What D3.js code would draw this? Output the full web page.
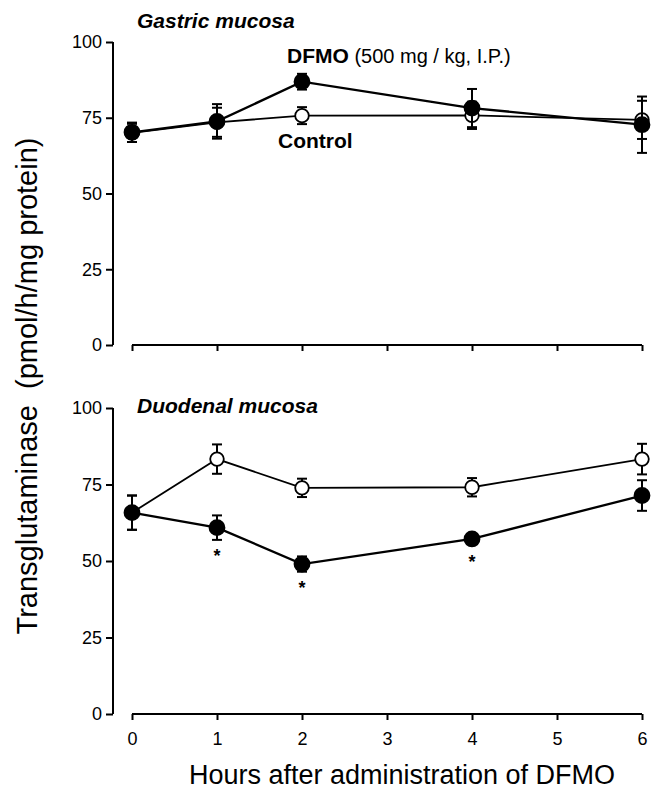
<!DOCTYPE html>
<html><head><meta charset="utf-8">
<script src="https://cdn.jsdelivr.net/npm/d3@7"></script>
<style>body{margin:0;background:#fff}svg{display:block;font-family:"Liberation Sans",Arial,Helvetica,sans-serif}</style>
</head><body><svg id="c" width="663" height="791"></svg>
<script>
const hours = [0, 1, 2, 4, 6];
const xTicks = [0, 1, 2, 3, 4, 5, 6];
const yTicks = [0, 25, 50, 75, 100];
const gastricControl = [70, 73.5, 75.7, 75.8, 74.3];
const gastricControlErr = [3, 4.8, 2.8, 4.5, 6.3];
const gastricDFMO = [70.2, 73.8, 86.9, 78.2, 72.7];
const gastricDFMOErr = [3.2, 5.7, 2.6, 6.3, 9.3];
const duodenalControl = [65.8, 83.3, 73.9, 74.1, 83.3];
const duodenalControlErr = [5.6, 4.8, 3, 3, 5];
const duodenalDFMO = [65.8, 60.9, 49, 57.2, 71.4];
const duodenalDFMOErr = [5.6, 4, 2.5, 1.5, 5];
const gastricSig = [false, false, false, false, false];
const duodenalSig = [false, true, true, true, false];

const FONT = "Liberation Sans, Arial, Helvetica, sans-serif";
const svg = d3.select("#c");
const x = d3.scaleLinear().domain([0, 6]).range([132, 642]);
const axisX = 113;

function panel(y0, y1, title, titleY, ctrl, ctrlErr, dfmo, dfmoErr, sig, showXLabels) {
  const y = d3.scaleLinear().domain([0, 100]).range([y0, y1]);
  const g = svg.append("g");
  // y axis
  const ya = g.append("g").attr("transform", `translate(${axisX},0)`)
    .call(d3.axisLeft(y).tickValues(yTicks).tickSize(7).tickPadding(4));
  ya.select(".domain").attr("stroke-width", 2).attr("d", `M0,${y0}V${y1}`);
  ya.selectAll(".tick line").attr("stroke-width", 2);
  ya.selectAll("text").attr("font-size", 18).attr("font-family", FONT);
  // x axis
  const xa = g.append("g").attr("transform", `translate(0,${y0})`)
    .call(d3.axisBottom(x).tickValues(xTicks).tickSize(6).tickPadding(12)
      .tickFormat(showXLabels ? d3.format("d") : () => ""));
  xa.select(".domain").attr("stroke-width", 2).attr("d", `M${x(0)},0H${x(6)}`);
  xa.selectAll(".tick line").attr("stroke-width", 2);
  xa.selectAll("text").attr("font-size", 18).attr("font-family", FONT);
  // title
  g.append("text").attr("x", 137).attr("y", titleY)
    .attr("font-size", 21).attr("font-weight", "bold").attr("font-style", "italic").text(title);

  const line = d3.line().x((d, i) => x(hours[i])).y(d => y(d));
  function series(vals, errs, filled, lw) {
    g.append("path").datum(vals).attr("d", line).attr("fill", "none").attr("stroke", "#000").attr("stroke-width", lw);
    const eb = g.append("g");
    vals.forEach((v, i) => {
      const cx = x(hours[i]), top = y(v + errs[i]), bot = y(v - errs[i]);
      eb.append("line").attr("x1", cx).attr("x2", cx).attr("y1", top).attr("y2", bot).attr("stroke", "#000").attr("stroke-width", 2);
      eb.append("line").attr("x1", cx - 5).attr("x2", cx + 5).attr("y1", top).attr("y2", top).attr("stroke", "#000").attr("stroke-width", 2);
      eb.append("line").attr("x1", cx - 5).attr("x2", cx + 5).attr("y1", bot).attr("y2", bot).attr("stroke", "#000").attr("stroke-width", 2);
    });
    g.selectAll(null).data(vals).enter().append("circle")
      .attr("cx", (d, i) => x(hours[i])).attr("cy", d => y(d))
      .attr("r", filled ? 7.5 : 6.8)
      .attr("fill", filled ? "#000" : "#fff").attr("stroke", "#000").attr("stroke-width", 1.8);
  }
  series(ctrl, ctrlErr, false, 1.8);
  series(dfmo, dfmoErr, true, 2.3);
  dfmo.forEach((v, i) => {
    if (!sig[i]) return;
    const center = Math.max(y(v) + 19, y(v - dfmoErr[i]) + 12);
    g.append("text").attr("x", x(hours[i])).attr("y", center + 10.5)
      .attr("text-anchor", "middle").attr("font-size", 18).attr("font-weight", "bold").text("*");
  });
  return y;
}

panel(345, 42, "Gastric mucosa", 28, gastricControl, gastricControlErr, gastricDFMO, gastricDFMOErr, gastricSig, false);
panel(714, 408, "Duodenal mucosa", 413, duodenalControl, duodenalControlErr, duodenalDFMO, duodenalDFMOErr, duodenalSig, true);

// annotations
const ann = svg.append("text").attr("x", 287).attr("y", 63).attr("font-size", 21);
ann.append("tspan").attr("font-weight", "bold").text("DFMO");
ann.append("tspan").attr("font-size", 20).text(" (500 mg / kg, I.P.)");
svg.append("text").attr("x", 278).attr("y", 148).attr("font-size", 21).attr("font-weight", "bold").text("Control");

// axis titles
svg.append("text").attr("x", 402).attr("y", 784).attr("text-anchor", "middle").attr("font-size", 27)
  .text("Hours after administration of DFMO");
svg.append("text").attr("transform", "translate(37,386) rotate(-90)").attr("text-anchor", "middle").attr("font-size", 29)
  .attr("xml:space", "preserve").text("Transglutaminase  (pmol/h/mg protein)");
</script></body></html>
